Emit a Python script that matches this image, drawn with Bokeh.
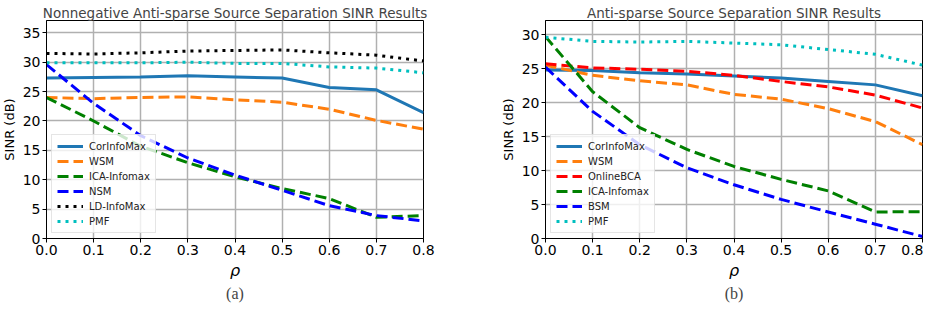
from bokeh.plotting import figure
from bokeh.models import FixedTicker, Legend, LegendItem, Title, Range1d
from bokeh.layouts import row
from bokeh.embed import file_html
from bokeh.resources import INLINE

rho = [0.0, 0.1, 0.2, 0.3, 0.4, 0.5, 0.6, 0.7, 0.8]

# Panel (a)
a_corinfomax = [27.3, 27.4, 27.5, 27.7, 27.5, 27.3, 25.7, 25.3, 21.4]
a_wsm = [24.0, 23.8, 24.0, 24.1, 23.6, 23.2, 22.0, 20.1, 18.6]
a_ica = [24.0, 20.0, 15.7, 12.9, 10.5, 8.5, 6.8, 3.6, 3.9]
a_nsm = [29.6, 23.0, 17.5, 13.7, 10.8, 8.2, 5.6, 3.9, 3.0]
a_ldinfomax = [31.5, 31.4, 31.6, 31.9, 32.0, 32.1, 31.6, 31.2, 30.2]
a_pmf = [29.9, 29.9, 29.9, 30.0, 29.8, 29.8, 29.2, 29.0, 28.2]

# Panel (b)
b_corinfomax = [24.8, 24.7, 24.4, 24.2, 23.9, 23.6, 23.1, 22.6, 21.0]
b_wsm = [25.5, 24.0, 23.2, 22.6, 21.2, 20.5, 19.1, 17.2, 13.8]
b_onlinebca = [25.7, 25.1, 24.9, 24.6, 24.0, 23.1, 22.3, 21.1, 19.2]
b_ica = [29.7, 21.6, 16.3, 13.1, 10.6, 8.7, 7.0, 3.9, 3.95]
b_bsm = [25.2, 18.7, 13.8, 10.4, 7.9, 5.75, 3.9, 2.1, 0.3]
b_pmf = [29.6, 29.0, 28.9, 29.0, 28.75, 28.5, 27.8, 27.1, 25.5]

x_ticks = [0.0, 0.1, 0.2, 0.3, 0.4, 0.5, 0.6, 0.7, 0.8]
a_y_ticks = [0, 5, 10, 15, 20, 25, 30, 35]
b_y_ticks = [0, 5, 10, 15, 20, 25, 30]

SANS = "DejaVu Sans"
DASH = "11 5"
DOT = "3 5"


def make_panel(title, caption, ymax, yticks, series, border_left, border_right, width):
    p = figure(width=width, height=302, output_backend="svg", toolbar_location=None,
               x_range=Range1d(0, 0.8), y_range=Range1d(0, ymax),
               min_border_left=border_left, min_border_right=border_right,
               min_border_top=16, min_border_bottom=66)
    p.title.text = title
    p.title.text_font = SANS
    p.title.text_font_size = "13.5px"
    p.title.text_font_style = "normal"
    p.title.align = "center"
    p.title.standoff = 0
    p.title.offset = 0
    p.outline_line_color = "black"
    p.outline_line_width = 1
    p.outline_line_alpha = 1
    p.background_fill_color = "white"
    p.border_fill_color = "white"

    for ax in (p.xaxis[0], p.yaxis[0]):
        ax.major_label_text_font = SANS
        ax.major_label_text_font_size = "14px"
        ax.major_label_text_color = "black"
        ax.axis_line_color = "black"
        ax.major_tick_line_color = "black"
        ax.major_tick_out = 4
        ax.major_tick_in = 0
        ax.minor_tick_out = 0
        ax.minor_tick_in = 0
        ax.major_label_standoff = 2
        ax.axis_label_text_font = SANS
        ax.axis_label_text_color = "black"
    p.xaxis.ticker = FixedTicker(ticks=x_ticks)
    p.xaxis.major_label_overrides = {t: f"{t:.1f}" for t in x_ticks}
    p.yaxis.ticker = FixedTicker(ticks=yticks)
    p.xaxis.axis_label = "ρ"
    p.xaxis.axis_label_text_font_size = "16px"
    p.xaxis.axis_label_text_font_style = "italic"
    p.xaxis.axis_label_standoff = 3
    p.yaxis.axis_label = "SINR (dB)"
    p.yaxis.axis_label_text_font_size = "13px"
    p.yaxis.axis_label_text_font_style = "normal"
    p.yaxis.axis_label_standoff = 3

    p.grid.grid_line_color = "#b0b0b0"
    p.grid.grid_line_width = 1.5

    items = []
    for label, vals, color, dash in series:
        r = p.line(rho, vals, line_color=color, line_width=3, line_dash=dash)
        items.append(LegendItem(label=label, renderers=[r]))
    leg = Legend(items=items, location="bottom_left")
    leg.label_text_font = SANS
    leg.label_text_font_size = "10px"
    leg.label_text_color = "#222222"
    leg.glyph_width = 26
    leg.glyph_height = 12
    leg.label_height = 12
    leg.spacing = 3
    leg.padding = 5
    leg.margin = 5
    leg.label_standoff = 6
    leg.border_line_color = "#cccccc"
    leg.border_line_width = 1
    leg.background_fill_color = "white"
    leg.background_fill_alpha = 0.8
    p.add_layout(leg, "center")

    cap = Title(text=caption, align="center", text_font="Liberation Serif",
                text_font_size="16px", text_font_style="normal", standoff=0, offset=0)
    p.add_layout(cap, "below")
    return p


pa = make_panel("Nonnegative Anti-sparse Source Separation SINR Results", "(a)", 37.1, a_y_ticks, [
    ("CorInfoMax", a_corinfomax, "#1f77b4", "solid"),
    ("WSM", a_wsm, "#ff7f0e", DASH),
    ("ICA-Infomax", a_ica, "#008000", DASH),
    ("NSM", a_nsm, "#0000ff", DASH),
    ("LD-InfoMax", a_ldinfomax, "#000000", DOT),
    ("PMF", a_pmf, "#00bfbf", DOT),
], 50, 42, 469)

pb = make_panel("Anti-sparse Source Separation SINR Results", "(b)", 32.07, b_y_ticks, [
    ("CorInfoMax", b_corinfomax, "#1f77b4", "solid"),
    ("WSM", b_wsm, "#ff7f0e", DASH),
    ("OnlineBCA", b_onlinebca, "#ff0000", DASH),
    ("ICA-Infomax", b_ica, "#008000", DASH),
    ("BSM", b_bsm, "#0000ff", DASH),
    ("PMF", b_pmf, "#00bfbf", DOT),
], 80, 1, 458)

layout = row(pa, pb, margin=(2, 0, 0, -4))

open("out.html", "w").write(file_html(layout, INLINE))
